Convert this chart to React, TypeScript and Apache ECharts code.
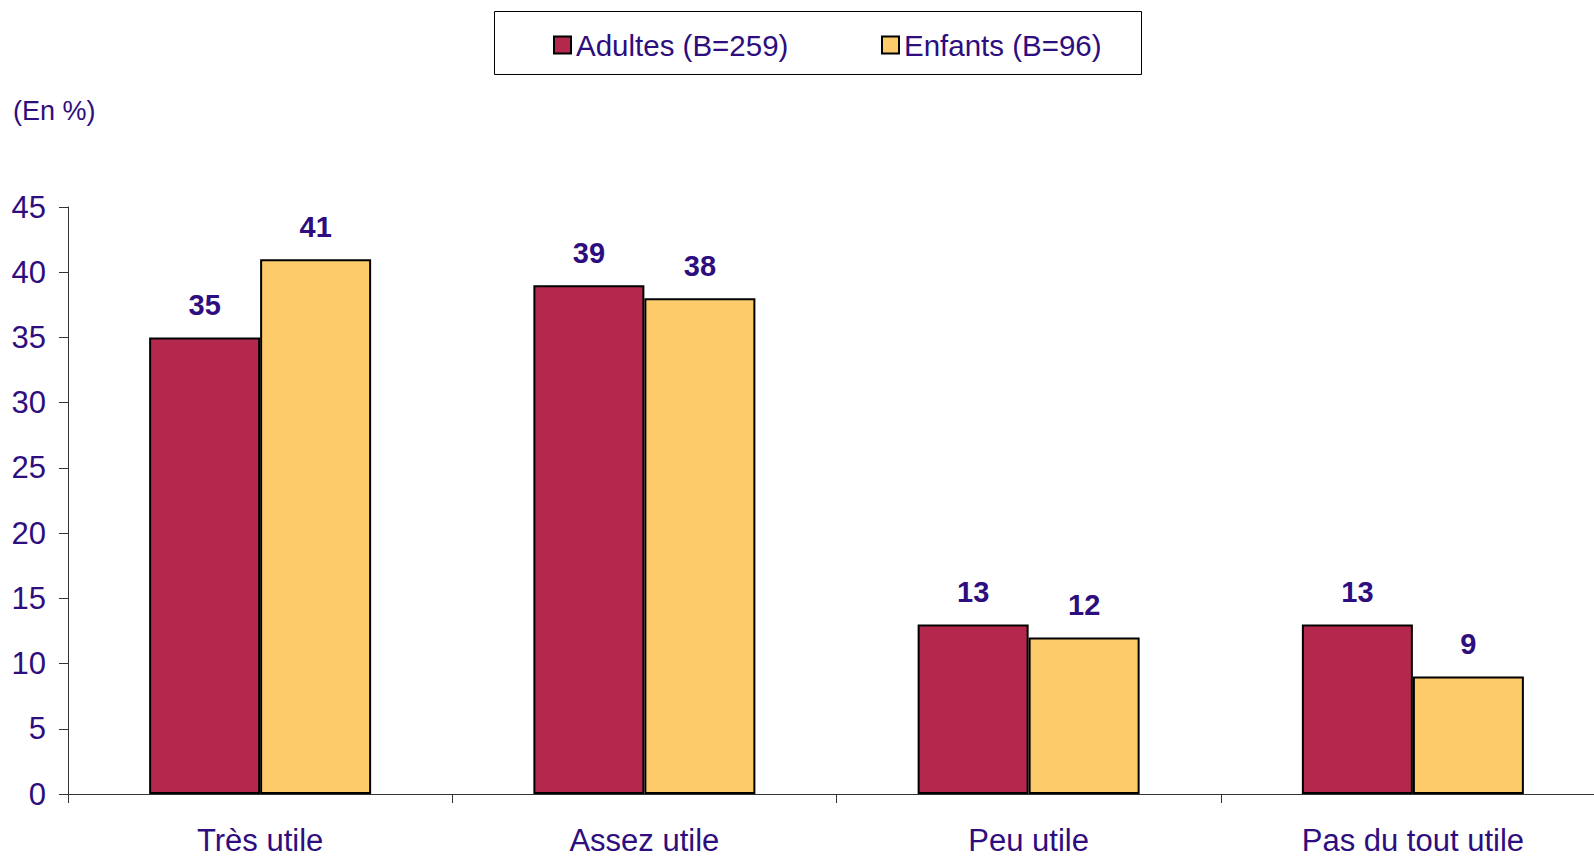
import React, { useEffect, useRef } from "react";
import * as echarts from "echarts";

const categories = ["Très utile", "Assez utile", "Peu utile", "Pas du tout utile"];
const adultes = [35, 39, 13, 13];
const enfants = [41, 38, 12, 9];
const seriesNames = ["Adultes (B=259)", "Enfants (B=96)"];
const yTicks = { min: 0, max: 45, interval: 5 };

const TEXT = "#2E0D7E";
const FONT = "'Liberation Sans', Arial, sans-serif";

export default function App() {
  const ref = useRef<HTMLDivElement>(null);
  useEffect(() => {
    document.body.style.margin = "0";
    const chart = echarts.init(ref.current!, null, { renderer: "svg" });
    const legendText = { color: TEXT, fontSize: 29.5, fontFamily: FONT };
    chart.setOption({
      animation: false,
      textStyle: { fontFamily: FONT },
      legend: [
        {
          data: [seriesNames[0]],
          left: 553,
          top: 30,
          itemWidth: 17,
          itemHeight: 17,
          itemGap: 8,
          padding: 0,
          icon: "rect",
          selectedMode: false,
          textStyle: legendText,
        },
        {
          data: [seriesNames[1]],
          left: 881,
          top: 30,
          itemWidth: 17,
          itemHeight: 17,
          padding: 0,
          icon: "rect",
          selectedMode: false,
          textStyle: legendText,
        },
      ],
      graphic: [
        {
          type: "rect",
          shape: { x: 494.5, y: 11.5, width: 647, height: 63 },
          style: { fill: "none", stroke: "#000", lineWidth: 1 },
          z: -1,
        },
        {
          type: "text",
          left: 13,
          top: 97,
          style: { text: "(En %)", fill: TEXT, fontSize: 27, fontFamily: FONT },
        },
      ],
      grid: {
        left: 68,
        width: 1537,
        top: 207,
        height: 587,
        containLabel: false,
        outerBoundsMode: "none",
      },
      xAxis: {
        type: "category",
        data: categories,
        axisLine: { lineStyle: { color: "#333", width: 1 } },
        axisTick: { show: true, length: 9, lineStyle: { color: "#333" } },
        axisLabel: { color: TEXT, fontSize: 31, fontFamily: FONT, margin: 31, interval: 0 },
      },
      yAxis: {
        type: "value",
        min: yTicks.min,
        max: yTicks.max,
        interval: yTicks.interval,
        splitLine: { show: false },
        axisLine: { show: true, lineStyle: { color: "#333", width: 1 } },
        axisTick: { show: true, length: 9, lineStyle: { color: "#333" } },
        axisLabel: { color: TEXT, fontSize: 31, fontFamily: FONT, margin: 22 },
      },
      series: [
        {
          name: seriesNames[0],
          type: "bar",
          data: adultes,
          barWidth: 111,
          barGap: "0%",
          itemStyle: { color: "#B3284C", borderColor: "#000", borderWidth: 2 },
          label: {
            show: true,
            position: "top",
            distance: 18,
            color: TEXT,
            fontSize: 29,
            fontWeight: "bold",
            fontFamily: FONT,
          },
        },
        {
          name: seriesNames[1],
          type: "bar",
          data: enfants,
          barWidth: 111,
          barGap: "0%",
          itemStyle: { color: "#FECB6A", borderColor: "#000", borderWidth: 2 },
          label: {
            show: true,
            position: "top",
            distance: 18,
            color: TEXT,
            fontSize: 29,
            fontWeight: "bold",
            fontFamily: FONT,
          },
        },
      ],
    });
    return () => chart.dispose();
  }, []);
  return <div ref={ref} style={{ width: 1594, height: 857, overflow: "hidden" }} />;
}
